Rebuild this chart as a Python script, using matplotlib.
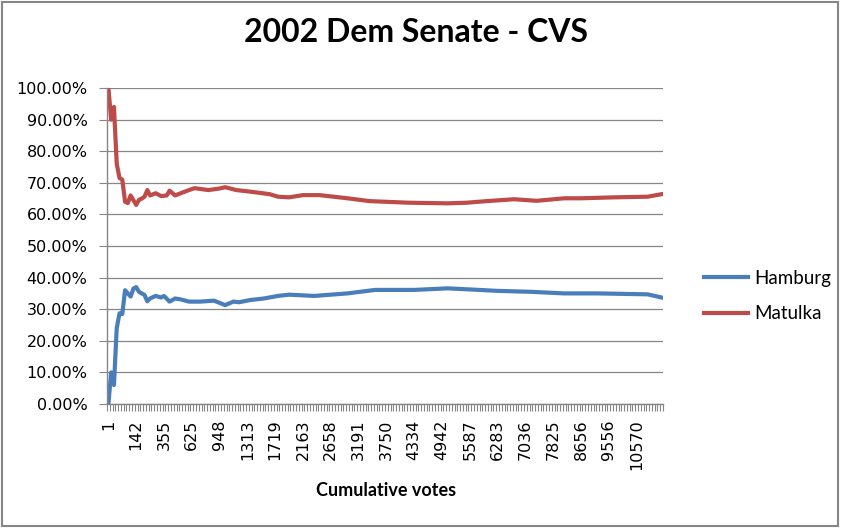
# 2002 Dem Senate - CVS, cumulative share of votes per category
import numpy as np
import matplotlib
matplotlib.use('Agg')
import matplotlib.pyplot as plt
from matplotlib.patches import Rectangle

# category axis: 200 categories, a label every 10th one
n_cat = 200
label_idx = list(range(0, 200, 10))
label_txt = ['1', '142', '355', '625', '948', '1313', '1719', '2163', '2658', '3191',
             '3750', '4334', '4942', '5587', '6283', '7036', '7825', '8656', '9556', '10570']

# values (category index, percent)
ham_idx = [0, 1, 2, 3, 4, 5, 6, 7, 8, 9, 10, 11, 13, 14, 15, 17, 19, 20, 22, 24, 26, 29, 33,
           38, 42, 45, 47, 51, 56, 61, 65, 74, 86, 96, 110, 122, 129, 140, 152, 164, 176,
           188, 194, 199]
ham_val = [0, 10, 6, 24, 28.7, 28.5, 36, 35, 34, 36.5, 37, 35.5, 34.5, 32.5, 33.4, 34.2,
           33.7, 34.2, 32.4, 33.4, 33.1, 32.4, 32.4, 32.7, 31.3, 32.4, 32.2, 32.9, 33.4,
           34.2, 34.6, 34.2, 35, 36.1, 36.1, 36.6, 36.3, 35.8, 35.5, 35, 35, 34.8, 34.7, 33.7]

mat_idx = [0, 1, 2, 3, 4, 5, 6, 7, 8, 9, 10, 11, 12, 13, 14, 15, 17, 19, 21, 22, 24, 26, 29,
           31, 36, 40, 42, 46, 51, 58, 61, 65, 70, 76, 86, 94, 108, 122, 129, 136, 146, 154,
           164, 170, 182, 194, 199]
mat_val = [100, 90, 94, 76, 71.5, 71, 64, 63.6, 66, 64.5, 63, 64.6, 65, 65.6, 67.7, 66,
           66.7, 65.8, 66, 67.5, 66, 66.7, 67.7, 68.3, 67.7, 68.2, 68.6, 67.7, 67.2, 66.4,
           65.6, 65.4, 66.1, 66.1, 65.1, 64.2, 63.7, 63.5, 63.7, 64.2, 64.8, 64.3, 65.1,
           65.1, 65.4, 65.6, 66.4]

grey = '#868686'
blue = '#4A7EBB'
red = '#BE4B48'

fig = plt.figure(figsize=(8.41, 5.28), dpi=100)
ax = fig.add_axes([107/841, 1-404/528, (663-107)/841, (404-88)/528])

ax.plot(ham_idx, ham_val, color=blue, lw=3.0, label='Hamburg', solid_joinstyle='round')
ax.plot(mat_idx, mat_val, color=red, lw=3.0, label='Matulka', solid_joinstyle='round')

ax.set_ylim(0, 100)
ax.set_yticks(np.arange(0, 101, 10))
ax.set_yticklabels(['%.2f%%' % v for v in np.arange(0, 101, 10)])
ax.yaxis.grid(True, color=grey, lw=0.9)
ax.set_axisbelow(True)

ax.set_xlim(-0.5, n_cat - 0.5)
ax.set_xticks(label_idx)
ax.set_xticklabels(label_txt, rotation=90)
ax.set_xticks(np.arange(n_cat + 1) - 0.5, minor=True)
ax.tick_params(axis='x', which='major', length=0, pad=11)
ax.tick_params(axis='x', which='minor', length=5, color=grey, width=0.8)
ax.tick_params(axis='y', length=6, color=grey, width=0.8, pad=8)
for lab in ax.get_xticklabels() + ax.get_yticklabels():
    lab.set_fontfamily('DejaVu Sans')
    lab.set_fontsize(11.5)

for s in ['top', 'right']:
    ax.spines[s].set_visible(False)
for s in ['left', 'bottom']:
    ax.spines[s].set_color(grey)
    ax.spines[s].set_linewidth(1.0)

fig.text(0.495, 1-33/528, '2002 Dem Senate - CVS', ha='center', va='center',
         fontsize=23, fontweight='bold', family='Lato')
fig.text(386/841, 1-490/528, 'Cumulative votes', ha='center', va='center',
         fontsize=13, fontweight='bold', family='Lato')

fig.legend(loc='center left', bbox_to_anchor=(695/841, 1-296/528), frameon=False,
           borderpad=0, handlelength=2.3, handletextpad=0.35, labelspacing=1.0,
           prop={'family': 'Lato', 'size': 13.5})

fig.patches.append(Rectangle((0.002, 0.003), 0.995, 0.994, transform=fig.transFigure,
                             fill=False, edgecolor=grey, lw=1.5))

fig.savefig('out.png', dpi=100)
